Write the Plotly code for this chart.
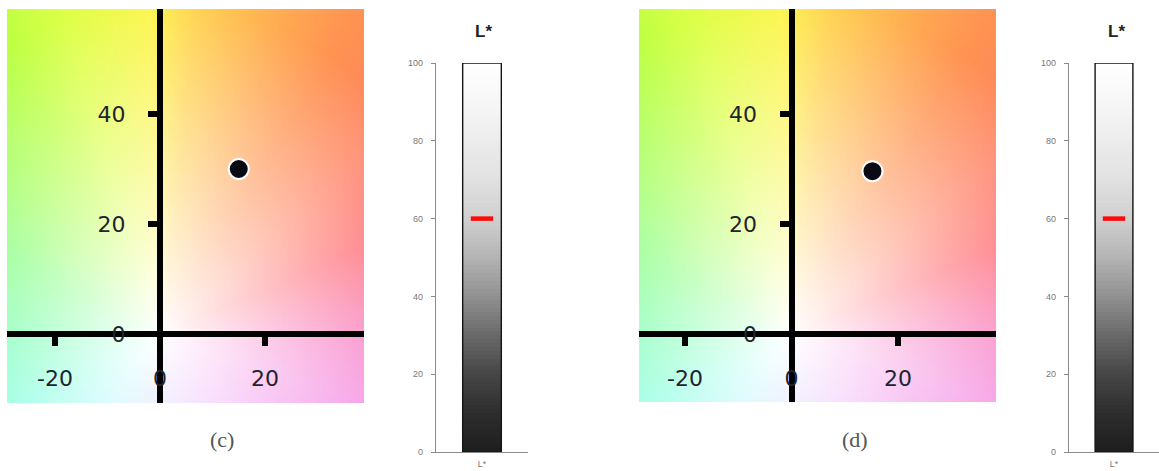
import numpy as np
import plotly.graph_objects as go

# ---------------- data ----------------
panel_labels = ["(c)", "(d)"]
a_star = [15.0, 15.2]          # a* of the sample (dot)
b_star = [30.0, 29.6]          # b* of the sample (dot)
L_star = [60, 60]              # L* of the sample (red dash)
ab_ticks_x = [-20, 0, 20]
ab_ticks_y = [0, 20, 40]
L_ticks = [0, 20, 40, 60, 80, 100]
L_category = ["L*"]
L_scale_top = [100]

# ---------------- style / layout constants ----------------
W, H = 1159, 471
# a*b* panels: (left, right, top, bottom) in px, origin px, px per unit
ab_boxes = [(7, 364, 9, 403), (639, 996, 9, 402)]
ab_origin = [(160, 334), (791.5, 334)]
ab_scale = [(5.25, 5.5), (5.325, 5.5)]
# L* panels (left, right, top, bottom) px
L_boxes = [(436, 528, 63, 452), (1069, 1159, 63, 452)]
L_title_pos = [(483, 32), (1116, 32)]
caption_pos = [(222, 439), (855, 439)]

# colour wheel for the a*b* background (hue angle -> saturated colour)
hue_deg = [0, 22, 40, 57, 67, 83, 92, 108, 118, 134, 153, 180, 205, 235, 270, 300, 330, 342, 360]
hue_rgb = [(248, 112, 185), (255, 95, 105), (255, 128, 98), (255, 146, 82), (255, 168, 82),
           (255, 210, 82), (252, 245, 80), (220, 255, 72), (190, 255, 66), (150, 255, 72),
           (100, 255, 92), (78, 255, 150), (95, 255, 212), (140, 240, 255), (190, 190, 255),
           (225, 150, 250), (240, 125, 230), (242, 128, 222), (248, 112, 185)]
chroma_ref = 60.0

# grey ramp for the L* column
L_gray_scale = [[0.0, "rgb(30,30,30)"], [0.1, "rgb(45,45,45)"], [0.2, "rgb(70,70,70)"],
                [0.3, "rgb(105,105,105)"], [0.4, "rgb(145,145,145)"], [0.5, "rgb(180,180,180)"],
                [0.6, "rgb(208,208,208)"], [0.7, "rgb(225,225,225)"], [0.8, "rgb(236,236,236)"],
                [0.9, "rgb(247,247,247)"], [1.0, "rgb(255,255,255)"]]

tick_font = dict(family="DejaVu Sans", size=22, color="#23232e")
small_font = dict(family="Liberation Sans", size=9, color="#777777")

fig = go.Figure()
layout = dict(width=W, height=H, margin=dict(l=0, r=0, t=0, b=0, pad=0, autoexpand=False),
              paper_bgcolor="white", plot_bgcolor="white", showlegend=False)
annotations = []

for i in range(2):
    # ---------- a*b* panel ----------
    left, right, top, bottom = ab_boxes[i]
    ox, oy = ab_origin[i]
    sx, sy = ab_scale[i]
    xr = [(left - ox) / sx, (right - ox) / sx]
    yr = [(oy - bottom) / sy, (oy - top) / sy]
    xn = "x" if i == 0 else "x3"
    yn = "y" if i == 0 else "y3"
    xk = "xaxis" if i == 0 else "xaxis3"
    yk = "yaxis" if i == 0 else "yaxis3"

    nx, ny = 140, 150
    dx = (xr[1] - xr[0]) / nx
    dy = (yr[1] - yr[0]) / ny
    xc = xr[0] + dx / 2 + dx * np.arange(nx)
    yc = yr[0] + dy / 2 + dy * np.arange(ny)
    A, B = np.meshgrid(xc, yc)
    theta = np.degrees(np.arctan2(B, A)) % 360
    C = np.hypot(A, B)
    s = (np.clip(C / chroma_ref, 0, 1) ** 0.95)[..., None]
    full = np.stack([np.interp(theta, hue_deg, [c[k] for c in hue_rgb]) for k in range(3)], axis=-1)
    rgb = 255 * (1 - s) + full * s
    z = np.clip(np.round(rgb), 0, 255).astype(int).tolist()

    fig.add_trace(go.Image(z=z, x0=xc[0], dx=dx, y0=yc[0], dy=dy, colormodel="rgb",
                           hoverinfo="skip", xaxis=xn, yaxis=yn))
    fig.add_trace(go.Scatter(x=[a_star[i]], y=[b_star[i]], mode="markers",
                             marker=dict(size=20, color="#0a0a14", line=dict(color="white", width=2)),
                             xaxis=xn, yaxis=yn, cliponaxis=False))

    layout[xk] = dict(domain=[left / W, right / W], range=xr, anchor="free",
                      position=1 - oy / H, showline=True, linewidth=6, linecolor="black",
                      ticks="outside", ticklen=9, tickwidth=6, tickcolor="black",
                      tickvals=ab_ticks_x, ticktext=[str(v) for v in ab_ticks_x],
                      ticklabelstandoff=14, tickfont=tick_font, automargin=False,
                      showgrid=False, zeroline=False, layer="above traces", fixedrange=True)
    layout[yk] = dict(domain=[1 - bottom / H, 1 - top / H], range=yr, anchor="free",
                      position=ox / W, showline=True, linewidth=6, linecolor="black",
                      ticks="outside", ticklen=9, tickwidth=6, tickcolor="black",
                      tickvals=ab_ticks_y, ticktext=[str(v) for v in ab_ticks_y],
                      ticklabelstandoff=18, tickfont=tick_font, automargin=False,
                      showgrid=False, zeroline=False, layer="above traces",
                      scaleanchor=False, fixedrange=True)

    # ---------- L* panel ----------
    lleft, lright, ltop, lbottom = L_boxes[i]
    xn2 = "x2" if i == 0 else "x4"
    yn2 = "y2" if i == 0 else "y4"
    xk2 = "xaxis2" if i == 0 else "xaxis4"
    yk2 = "yaxis2" if i == 0 else "yaxis4"
    bw = 0.42
    levels = np.arange(0.5, L_scale_top[0], 1.0)
    fig.add_trace(go.Heatmap(x=[-bw / 2, bw / 2], y=np.arange(0, L_scale_top[0] + 1, 1.0),
                             z=[[v] for v in levels], zmin=0, zmax=100,
                             colorscale=L_gray_scale, showscale=False, hoverinfo="skip",
                             xaxis=xn2, yaxis=yn2))
    fig.add_trace(go.Bar(x=[0], y=L_scale_top, width=bw,
                         marker=dict(color="rgba(0,0,0,0)", line=dict(color="#151515", width=1.4)),
                         xaxis=xn2, yaxis=yn2, hoverinfo="skip"))
    fig.add_trace(go.Scatter(x=[0], y=[L_star[i]], mode="markers",
                             marker=dict(symbol="line-ew", size=16, color="red",
                                         line=dict(color="#ff0a0a", width=4.5)),
                             xaxis=xn2, yaxis=yn2, cliponaxis=False))
    layout[xk2] = dict(domain=[lleft / W, lright / W], range=[-0.5, 0.5], anchor=yn2,
                       showline=True, linewidth=1.2, linecolor="#8a8a8a", automargin=False,
                       tickvals=[0], ticktext=L_category, ticks="", tickfont=small_font,
                       ticklabelstandoff=3, showgrid=False, zeroline=False, fixedrange=True)
    layout[yk2] = dict(domain=[1 - lbottom / H, 1 - ltop / H], range=[0, 100], anchor=xn2,
                       showline=True, linewidth=1.2, linecolor="#8a8a8a", automargin=False,
                       ticks="outside", ticklen=4, tickcolor="#8a8a8a", tickvals=L_ticks,
                       ticklabelstandoff=6, tickfont=small_font,
                       showgrid=False, zeroline=False, fixedrange=True)

    tx, ty = L_title_pos[i]
    annotations.append(dict(x=tx / W, y=1 - ty / H, xref="paper", yref="paper", text="<b>L*</b>",
                            showarrow=False, font=dict(family="Liberation Sans", size=17, color="#222"),
                            xanchor="center", yanchor="middle"))
    cx, cy = caption_pos[i]
    annotations.append(dict(x=cx / W, y=1 - cy / H, xref="paper", yref="paper", text=panel_labels[i],
                            showarrow=False, font=dict(family="Liberation Serif", size=22, color="#555"),
                            xanchor="center", yanchor="middle"))

layout["annotations"] = annotations
fig.update_layout(**layout)
fig.write_html("out.html", config={"displayModeBar": False},
               post_script="document.body.style.margin='0';document.body.style.overflow='hidden';")
